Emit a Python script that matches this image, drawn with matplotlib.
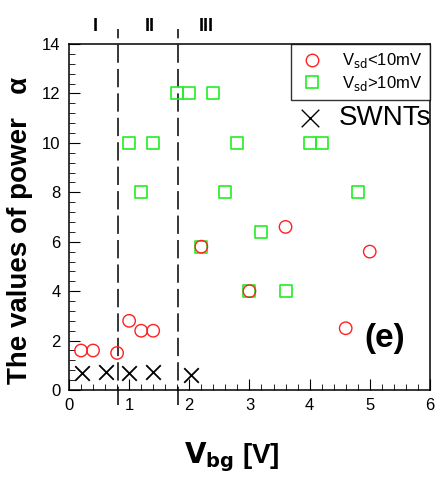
import matplotlib.pyplot as plt
from matplotlib.ticker import MultipleLocator
from matplotlib.lines import Line2D

plt.rcParams['font.family'] = ['Liberation Sans', 'DejaVu Sans']

# V_sd < 10 mV
low_x = [0.2, 0.4, 0.8, 1.0, 1.2, 1.4, 2.2, 3.0, 3.6, 4.6, 5.0]
low_y = [1.6, 1.6, 1.5, 2.8, 2.4, 2.4, 5.8, 4.0, 6.6, 2.5, 5.6]
# V_sd > 10 mV
high_x = [1.0, 1.2, 1.4, 1.8, 2.0, 2.2, 2.4, 2.6, 2.8, 3.0, 3.2, 3.6, 4.0, 4.2, 4.8]
high_y = [10, 8, 10, 12, 12, 5.8, 12, 8, 10, 4, 6.4, 4, 10, 10, 8]
# SWNTs
swnt_x = [0.22, 0.62, 1.0, 1.4, 2.03]
swnt_y = [0.68, 0.75, 0.68, 0.72, 0.6]

region_edges = [0.82, 1.81]
region_names = ['I', 'II', 'III']
region_pos = [0.43, 1.35, 2.28]

fig = plt.figure(figsize=(4.38, 4.78), dpi=100)
ax = fig.add_axes([0.1575, 0.184, 0.824, 0.724])

ax.scatter(low_x, low_y, s=80, facecolors='none', edgecolors='#ff2020', linewidths=1.0, zorder=3)
ax.scatter(high_x, high_y, s=75, marker='s', facecolors='none', edgecolors='#22ee22', linewidths=1.2, zorder=2)
ax.scatter(swnt_x, swnt_y, s=110, marker='x', color='black', linewidths=1.3, zorder=3)

for xe in region_edges:
    ax.plot([xe, xe], [-0.6, 14.6], color='black', lw=1.1, ls=(0, (12, 4)), clip_on=False, zorder=1)
for name, xp in zip(region_names, region_pos):
    ax.text(xp, 14.7, name, ha='center', va='center', fontsize=13, fontweight='bold')

ax.set_xlim(0, 6)
ax.set_ylim(0, 14)
ax.xaxis.set_major_locator(MultipleLocator(1))
ax.xaxis.set_minor_locator(MultipleLocator(0.2))
ax.yaxis.set_major_locator(MultipleLocator(2))
ax.yaxis.set_minor_locator(MultipleLocator(0.4))
ax.tick_params(which='both', direction='in', top=False, right=False, labelsize=12, pad=6)
ax.tick_params(which='major', length=8)
ax.tick_params(which='minor', length=4)
for sp in ax.spines.values():
    sp.set_linewidth(1.1)

ax.set_xlabel(r'$\mathbf{V_{bg}}$ [V]', fontsize=20, fontweight='bold')
ax.xaxis.set_label_coords(0.45, -0.145)
ax.set_ylabel('The values of power   α', fontsize=20, fontweight='bold')
ax.yaxis.set_label_coords(-0.1, 0.46)

handles = [
    Line2D([], [], ls='none', marker='o', ms=9, mfc='none', mec='#ff2020', mew=1.0),
    Line2D([], [], ls='none', marker='s', ms=8, mfc='none', mec='#22ee22', mew=1.2),
]
leg = ax.legend(handles, [r'V$_{\rm sd}$<10mV', r'V$_{\rm sd}$>10mV'], loc='upper right',
                bbox_to_anchor=(1.0, 1.0), fontsize=12, frameon=True, fancybox=False,
                edgecolor='black', borderaxespad=0, handletextpad=1.0, labelspacing=0.2,
                borderpad=0.45, handlelength=1.6)
leg.get_frame().set_linewidth(1.0)

ax.scatter([4.0], [11.0], s=160, marker='x', color='black', linewidths=1.0, clip_on=False)
ax.text(4.48, 11.0, 'SWNTs', fontsize=20, va='center', ha='left')

ax.text(5.25, 2.1, '(e)', fontsize=24, fontweight='bold', ha='center', va='center')

fig.savefig('out.png', dpi=100)
